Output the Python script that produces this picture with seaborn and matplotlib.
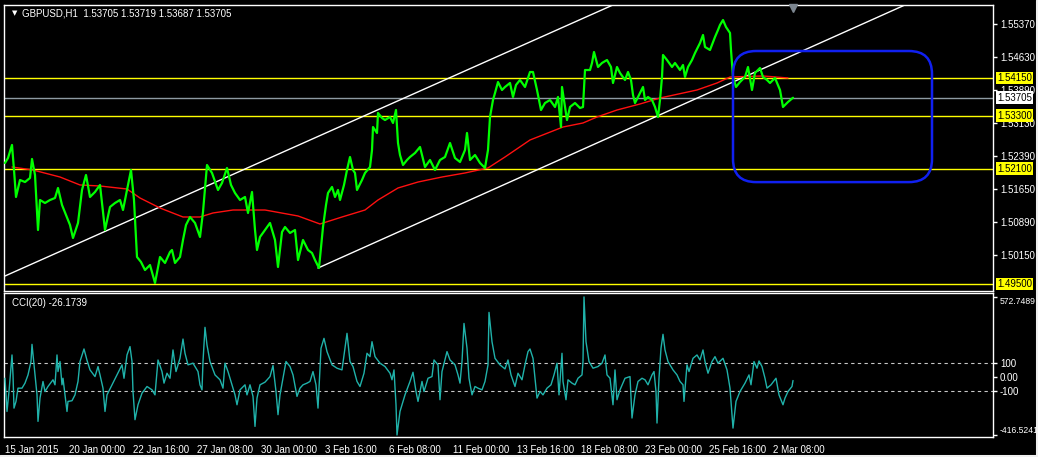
import pandas as pd
import seaborn as sns
import matplotlib.pyplot as plt
from matplotlib.patches import FancyBboxPatch
from matplotlib.transforms import blended_transform_factory, IdentityTransform
from matplotlib.lines import Line2D

# GBPUSD H1 - close (one value every few bars)
price_bar = [0, 3, 7, 9, 11, 15, 20, 25, 27, 30, 33, 35, 40, 45, 50, 53, 57, 61, 65, 68,
             73, 77, 81, 85, 90, 95, 100, 105, 110, 115, 118, 122, 126, 129, 132, 136, 140, 145, 150, 155,
             160, 165, 167, 170, 175, 178, 181, 185, 190, 195, 198, 202, 207, 213, 217, 222, 226, 230, 235, 240,
             243, 247, 250, 252, 255, 260, 265, 270, 273, 277, 280, 285, 290, 293, 298, 303, 307, 310, 314, 318,
             321, 323, 327, 330, 333, 335, 339, 342, 345, 348, 350, 352, 357, 360, 365, 367, 368, 372, 373, 377,
             380, 385, 388, 391, 393, 395, 398, 402, 405, 410, 415, 420, 425, 430, 435, 440, 445, 450, 455, 460,
             462, 465, 470, 475, 480, 483, 485, 488, 490, 493, 497, 500, 505, 508, 511, 515, 520, 525, 528, 532,
             536, 540, 545, 550, 553, 556, 557, 562, 565, 570, 575, 578, 580, 585, 587, 589, 593, 597, 602, 606,
             608, 612, 615, 620, 623, 626, 628, 630, 635, 638, 640, 643, 647, 650, 653, 655, 657, 658, 662, 667,
             670, 675, 678, 680, 683, 687, 690, 695, 698, 700, 705, 710, 713, 715, 718, 721, 725, 726, 728, 731,
             735, 740, 743, 747, 750, 755, 758, 762, 765, 770, 775, 778, 783, 788]
price_close = [1.52232, 1.52344, 1.52638, 1.52073, 1.51464, 1.51848, 1.51802, 1.51893, 1.52322, 1.51961,
               1.50719, 1.51396, 1.51328, 1.51396, 1.51441, 1.51667, 1.51283, 1.51057, 1.50832, 1.50538,
               1.50877, 1.51622, 1.51961, 1.51464, 1.51577, 1.51735, 1.50719, 1.51238, 1.51328, 1.51396,
               1.51170, 1.51622, 1.52073, 1.51396, 1.50109, 1.49996, 1.49815, 1.49928, 1.49522, 1.50109,
               1.49974, 1.50222, 1.50267, 1.49974, 1.50109, 1.50493, 1.50832, 1.51012, 1.50877, 1.50561,
               1.51125, 1.52186, 1.52006, 1.51622, 1.51780, 1.52119, 1.51735, 1.51554, 1.51396, 1.51464,
               1.51103, 1.51577, 1.50719, 1.50267, 1.50561, 1.50719, 1.50877, 1.50493, 1.49883, 1.50673,
               1.50786, 1.50651, 1.50719, 1.50041, 1.50493, 1.50267, 1.50199, 1.50041, 1.49861, 1.50786,
               1.51283, 1.51554, 1.51690, 1.51464, 1.51622, 1.51396, 1.51735, 1.52073, 1.52367, 1.52073,
               1.52006, 1.51622, 1.51848, 1.52006, 1.52141, 1.52525, 1.53044, 1.52909, 1.53361, 1.53248,
               1.53202, 1.53270, 1.53135, 1.53428, 1.52683, 1.52412, 1.52186, 1.52299, 1.52367, 1.52457,
               1.52593, 1.52141, 1.52299, 1.52073, 1.52299, 1.52367, 1.52683, 1.52344, 1.52254, 1.52525,
               1.52909, 1.52299, 1.52412, 1.52232, 1.52119, 1.52525, 1.53270, 1.53654, 1.53812, 1.54060,
               1.53880, 1.53948, 1.54038, 1.53722, 1.53993, 1.54106, 1.53948, 1.54286, 1.54286, 1.53880,
               1.53428, 1.53586, 1.53654, 1.53496, 1.53722, 1.53044, 1.53948, 1.53202, 1.53496, 1.53586,
               1.53473, 1.53496, 1.54331, 1.54331, 1.54490, 1.54738, 1.54399, 1.54490, 1.54557, 1.54399,
               1.54038, 1.54399, 1.54264, 1.54106, 1.54286, 1.54106, 1.53767, 1.53586, 1.53812, 1.53948,
               1.53654, 1.53722, 1.53654, 1.53496, 1.53270, 1.53654, 1.54173, 1.54670, 1.54557, 1.54399,
               1.54490, 1.54331, 1.54444, 1.54173, 1.54399, 1.54557, 1.54715, 1.54941, 1.55122, 1.54851,
               1.54783, 1.55077, 1.55235, 1.55348, 1.55460, 1.55302, 1.55167, 1.54783, 1.54173, 1.53948,
               1.54060, 1.54173, 1.54399, 1.53880, 1.54264, 1.54377, 1.54173, 1.54106, 1.54038, 1.54151,
               1.53880, 1.53496, 1.53609, 1.53705]

# moving average (red)
ma_bar = [7, 28, 55, 75, 95, 122, 135, 155, 178, 195, 208, 228, 260, 293, 315, 337, 360, 373, 393, 413,
          437, 460, 483, 500, 525, 558, 578, 592, 612, 635, 655, 692, 712, 725, 758, 783]
ma_value = [1.52141, 1.52073, 1.51915, 1.51735, 1.51712, 1.51644, 1.51441, 1.51215, 1.51012, 1.51012,
            1.51103, 1.51170, 1.51170, 1.51035, 1.50854, 1.51012, 1.51170, 1.51396, 1.51667, 1.51802,
            1.51915, 1.52006, 1.52119, 1.52367, 1.52751, 1.53044, 1.53135, 1.53270, 1.53428, 1.53564,
            1.53699, 1.53880, 1.54038, 1.54173, 1.54196, 1.54151]

# CCI(20)
cci_bar = [0, 2, 4, 7, 8, 9, 11, 13, 17, 20, 23, 26, 27, 29, 32, 33, 35, 38, 40, 43,
           48, 50, 52, 53, 55, 57, 58, 62, 63, 67, 70, 73, 75, 79, 82, 85, 90, 93, 95, 98,
           100, 102, 107, 112, 117, 119, 122, 125, 127, 128, 130, 133, 137, 142, 147, 150, 153, 157, 159, 162,
           165, 168, 171, 175, 178, 180, 183, 188, 193, 195, 197, 198, 200, 202, 205, 210, 215, 218, 220, 223,
           227, 230, 232, 235, 240, 242, 245, 248, 250, 252, 255, 260, 265, 268, 271, 273, 275, 278, 281, 285,
           288, 292, 295, 298, 302, 305, 308, 311, 313, 316, 319, 322, 327, 332, 337, 340, 342, 345, 348, 352,
           355, 359, 362, 365, 367, 370, 375, 380, 385, 387, 389, 391, 392, 395, 400, 405, 408, 411, 413, 417,
           419, 423, 427, 429, 433, 435, 437, 442, 445, 450, 453, 455, 457, 459, 462, 464, 467, 470, 473, 477,
           480, 483, 484, 487, 490, 495, 500, 503, 506, 510, 513, 517, 520, 523, 525, 528, 532, 535, 538, 542,
           546, 549, 552, 554, 557, 558, 561, 563, 567, 570, 573, 577, 578, 579, 581, 584, 588, 593, 597, 600,
           602, 605, 608, 610, 612, 615, 620, 625, 627, 630, 633, 637, 640, 643, 647, 649, 651, 652, 654, 656,
           658, 660, 663, 668, 672, 675, 678, 679, 682, 684, 688, 692, 695, 698, 700, 703, 707, 710, 713, 718,
           722, 725, 727, 728, 731, 735, 740, 744, 746, 749, 752, 754, 757, 760, 762, 766, 771, 774, 778, 780,
           783, 787, 788]
cci_value = [-10, -248, -105, 157, 14, -224, -176, -81, -81, -45, 14, 110, 233, 86, -129, -319, -152, -33, -105, -69,
             -21, -57, 157, 38, 110, -57, -10, -248, -176, -171, -129, -33, 110, 200, 119, 50, 2, 74, 14, -81,
             -248, -129, -57, 14, 86, -10, 157, 217, 110, -105, -307, -200, -117, -69, -93, -129, 121, 38, -45, 26,
             -10, 193, 38, 133, 271, 169, 86, 98, 38, -57, -93, 110, 355, 228, 110, 14, -21, -81, 98, 38,
             -57, -129, -200, -93, -57, -129, -57, -140, -355, -152, -57, -38, 2, 81, -105, -271, -129, -10, 110, 74,
             14, -140, -81, -57, -45, -33, 38, -57, -224, 205, 276, 181, 86, 62, 50, 205, 312, 110, 74, -33,
             -69, 26, 169, 145, 252, 145, 98, 74, 26, -21, 50, -200, -416.5241, -248, -129, -33, 33, -105, -176, -33,
             -105, -10, 2, 121, 86, -164, 38, 181, 121, 86, 14, -45, 110, 383, 205, -10, -129, -69, -81, -93,
             -33, 86, 462, 252, 133, 86, 57, 121, 14, -69, 26, -21, 86, 181, 200, 133, -152, -105, -129, -81,
             -57, 14, 98, -129, 169, -33, -164, -21, -45, -57, -10, 14, 110, 572.7489, 252, 110, 62, 74, 98, 157,
             14, -10, -200, 50, -164, -93, -10, 2, -295, -129, -33, -10, -21, -57, 14, 38, -105, -331, -10, 205,
             305, 193, 110, 50, 14, -33, -57, -176, 86, 38, 133, 157, 121, 193, 110, 26, 110, 145, 98, 133,
             50, -81, -271, -367, -176, -105, -45, 14, -57, 110, 62, 114, 74, -10, -81, -57, -10, -129, -200, -152,
             -105, -69, -26.1739]

time_ticks = [0, 64, 128, 192, 256, 320, 384, 448, 512, 576, 640, 704, 768]
time_labels = ['15 Jan 2015', '20 Jan 00:00', '22 Jan 16:00', '27 Jan 08:00', '30 Jan 00:00',
               '3 Feb 16:00', '6 Feb 08:00', '11 Feb 00:00', '13 Feb 16:00', '18 Feb 08:00',
               '23 Feb 00:00', '25 Feb 16:00', '2 Mar 08:00']
price_ticks = [1.5537, 1.5463, 1.5389, 1.5313, 1.5239, 1.5165, 1.5089, 1.5015]
yellow_levels = [1.5415, 1.5330, 1.5210, 1.4950]
bid = 1.53705
cci_levels = [100, -100]
cci_max = 572.7489
cci_min = -416.5241

# channel lines and the box drawn on the chart
chan_up_bar = [0, 608]
chan_up_price = [1.4968, 1.5580]
chan_dn_bar = [313, 900]
chan_dn_price = [1.4986, 1.5580]
box_bar = [728, 927]
box_price = [1.5180, 1.5476]

df_price = pd.DataFrame({'bar': price_bar, 'close': price_close})
df_ma = pd.DataFrame({'bar': ma_bar, 'ma': ma_value})
df_cci = pd.DataFrame({'bar': cci_bar, 'cci': cci_value})

sns.set_theme(style="dark", rc={'axes.facecolor': 'black', 'figure.facecolor': 'black',
                                'axes.edgecolor': 'white', 'text.color': 'white',
                                'xtick.color': 'white', 'ytick.color': 'white'})
plt.rcParams['font.family'] = ['Liberation Sans', 'DejaVu Sans']

W, H = 1038, 457
fig = plt.figure(figsize=(W / 100, H / 100), dpi=100)
ax = fig.add_axes([4 / W, (H - 291) / H, 989 / W, 286 / H])
ax2 = fig.add_axes([4 / W, (H - 437) / H, 989 / W, 144 / H])

fs = 7

# main window
sns.lineplot(data=df_ma, x='bar', y='ma', ax=ax, color='#ff1010', lw=1, zorder=3)
sns.lineplot(data=df_price, x='bar', y='close', ax=ax, color='#00ff00', lw=1.6, zorder=4)
sns.lineplot(x=chan_up_bar, y=chan_up_price, ax=ax, color='white', lw=1, zorder=2)
sns.lineplot(x=chan_dn_bar, y=chan_dn_price, ax=ax, color='white', lw=1, zorder=2)
for lv in yellow_levels:
    ax.axhline(lv, color='#ffff00', lw=1, zorder=1)
ax.axhline(bid, color='#8e9aa2', lw=1, zorder=1)

ax.set_xlim(-1, 988)
ax.set_ylim(1.49341, 1.55799)
ax.set_xlabel('')
ax.set_ylabel('')
ax.set_xticks([])
ax.yaxis.tick_right()
ax.set_yticks(price_ticks)
ax.set_yticklabels(['%.5f' % p for p in price_ticks])
ax.tick_params(axis='y', length=3, width=1, pad=2, labelsize=fs, colors='white', direction='out')
for s in ax.spines.values():
    s.set_color('white')
    s.set_linewidth(1)

lab = blended_transform_factory(ax.transAxes, ax.transData)
for lv in yellow_levels:
    ax.text(1.0 + 4 / 989, lv, '%.5f' % lv, transform=lab, fontsize=fs, color='black',
            va='center', ha='left', zorder=6, clip_on=False,
            bbox=dict(boxstyle='square,pad=0.15', fc='#ffff00', ec='none'))
ax.text(1.0 + 4 / 989, bid, '%.5f' % bid, transform=lab, fontsize=fs, color='black',
        va='center', ha='left', zorder=6, clip_on=False,
        bbox=dict(boxstyle='square,pad=0.15', fc='white', ec='none'))

ax.text(8 / 989, 1 - 8 / 286, '\u25bc', transform=ax.transAxes, fontsize=5, color='white',
        family=['DejaVu Sans'], va='center', ha='left')
ax.text(18 / 989, 1 - 8 / 286, 'GBPUSD,H1  1.53705 1.53719 1.53687 1.53705', transform=ax.transAxes,
        fontsize=fs, color='white', va='center', ha='left')

# shift marker at the top
top = blended_transform_factory(ax.transData, ax.transAxes)
ax.plot([price_bar[-1]], [1 - 3 / 286], marker='v', ms=6, color='#7c8690', transform=top,
        clip_on=False, zorder=7)

# rounded box, drawn in pixels so the corners stay round
fig.canvas.draw()
p0 = ax.transData.transform((box_bar[0], box_price[0]))
p1 = ax.transData.transform((box_bar[1], box_price[1]))
box = FancyBboxPatch((p0[0], p0[1]), p1[0] - p0[0], p1[1] - p0[1],
                     boxstyle='round,pad=0,rounding_size=23', fc='none', ec='#1020f0', lw=1.8,
                     transform=IdentityTransform(), zorder=8)
fig.add_artist(box)

# CCI window
sns.lineplot(data=df_cci, x='bar', y='cci', ax=ax2, color='#20b2aa', lw=1, zorder=3)
for lv in cci_levels:
    ax2.axhline(lv, color='#c8c8c8', lw=0.8, ls=(0, (3, 3)), zorder=1)
ax2.set_xlim(-1, 988)
ax2.set_ylim(-431, 601)
ax2.set_xlabel('')
ax2.set_ylabel('')
ax2.yaxis.tick_right()
ax2.set_yticks([cci_max, 100, 0, -100, cci_min])
ax2.set_yticklabels(['%.4f' % cci_max, '100', '0.00', '-100', '%.4f' % cci_min])
ax2.tick_params(axis='y', length=3, width=1, pad=2, labelsize=fs, colors='white', direction='out')
ylabs = ax2.get_yticklabels()
ylabs[0].set_va('top')
ylabs[0].set_fontsize(6.2)
ylabs[-1].set_va('bottom')
ylabs[-1].set_fontsize(6.2)
ax2.set_xticks(time_ticks)
ax2.set_xticklabels(time_labels, ha='left')
ax2.tick_params(axis='x', length=5, width=1, pad=1, labelsize=fs, colors='white', direction='out')
for s in ax2.spines.values():
    s.set_color('white')
    s.set_linewidth(1)
ax2.text(8 / 989, 1 - 10 / 144, 'CCI(20) -26.1739', transform=ax2.transAxes, fontsize=fs,
         color='white', va='center', ha='left')

# light border on the right and bottom edge
fig.add_artist(Line2D([1 - 1.5 / W, 1 - 1.5 / W], [0, 1], color='#f0f0f0', lw=2.2))
fig.add_artist(Line2D([0, 1], [1.5 / H, 1.5 / H], color='#f0f0f0', lw=2.2))

fig.savefig('out.png', dpi=100, facecolor='black')
